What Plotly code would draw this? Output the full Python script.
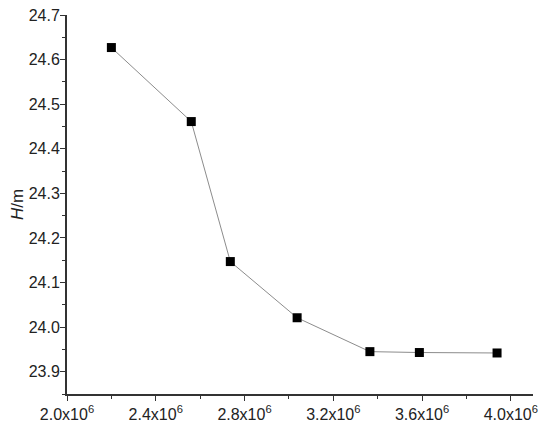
import plotly.graph_objects as go

# datos
x_vals = [2.20e6, 2.56e6, 2.736e6, 3.037e6, 3.365e6, 3.588e6, 3.938e6]
h_vals = [24.627, 24.461, 24.147, 24.021, 23.945, 23.943, 23.942]

x_ticks = [2.0e6, 2.4e6, 2.8e6, 3.2e6, 3.6e6, 4.0e6]
x_ticktext = ['2.0x10<sup>6</sup>', '2.4x10<sup>6</sup>', '2.8x10<sup>6</sup>',
              '3.2x10<sup>6</sup>', '3.6x10<sup>6</sup>', '4.0x10<sup>6</sup>']
y_ticks = [23.9, 24.0, 24.1, 24.2, 24.3, 24.4, 24.5, 24.6, 24.7]
y_ticktext = ['23.9', '24.0', '24.1', '24.2', '24.3', '24.4', '24.5', '24.6', '24.7']

EJE = '#333333'

fig = go.Figure(go.Scatter(
    x=x_vals, y=h_vals,
    mode='lines+markers',
    line=dict(color='#8c8c8c', width=1),
    marker=dict(symbol='square', size=9, color='black'),
    showlegend=False,
))

# la pagina tiene 8px de margen en el body: la figura se reduce en esa medida
fig.update_layout(
    width=542, height=420,
    margin=dict(l=59, r=17, t=7, b=34),
    plot_bgcolor='white', paper_bgcolor='white',
    font=dict(family='Liberation Sans, Arial, sans-serif', size=16, color='#222222'),
    xaxis=dict(
        range=[2.0e6, 4.1e6],
        automargin=False, ticklabeloverflow='allow',
        tickvals=x_ticks, ticktext=x_ticktext,
        tickfont=dict(size=16),
        showgrid=False, zeroline=False,
        showline=True, linecolor=EJE, linewidth=2,
        ticks='outside', ticklen=5, tickcolor=EJE,
        minor=dict(dtick=0.2e6, tick0=2.0e6, ticks='outside', ticklen=3, tickcolor=EJE),
    ),
    yaxis=dict(
        range=[23.85, 24.7],
        automargin=False, ticklabeloverflow='allow',
        ticklabelstandoff=-3,
        tickvals=y_ticks, ticktext=y_ticktext,
        tickfont=dict(size=16),
        showgrid=False, zeroline=False,
        showline=True, linecolor=EJE, linewidth=2,
        ticks='outside', ticklen=5, tickcolor=EJE,
        minor=dict(dtick=0.05, tick0=23.85, ticks='outside', ticklen=3, tickcolor=EJE),
        title=dict(text='<i>H</i>/m', standoff=10, font=dict(size=17)),
    ),
)

fig.write_html("out.html")
